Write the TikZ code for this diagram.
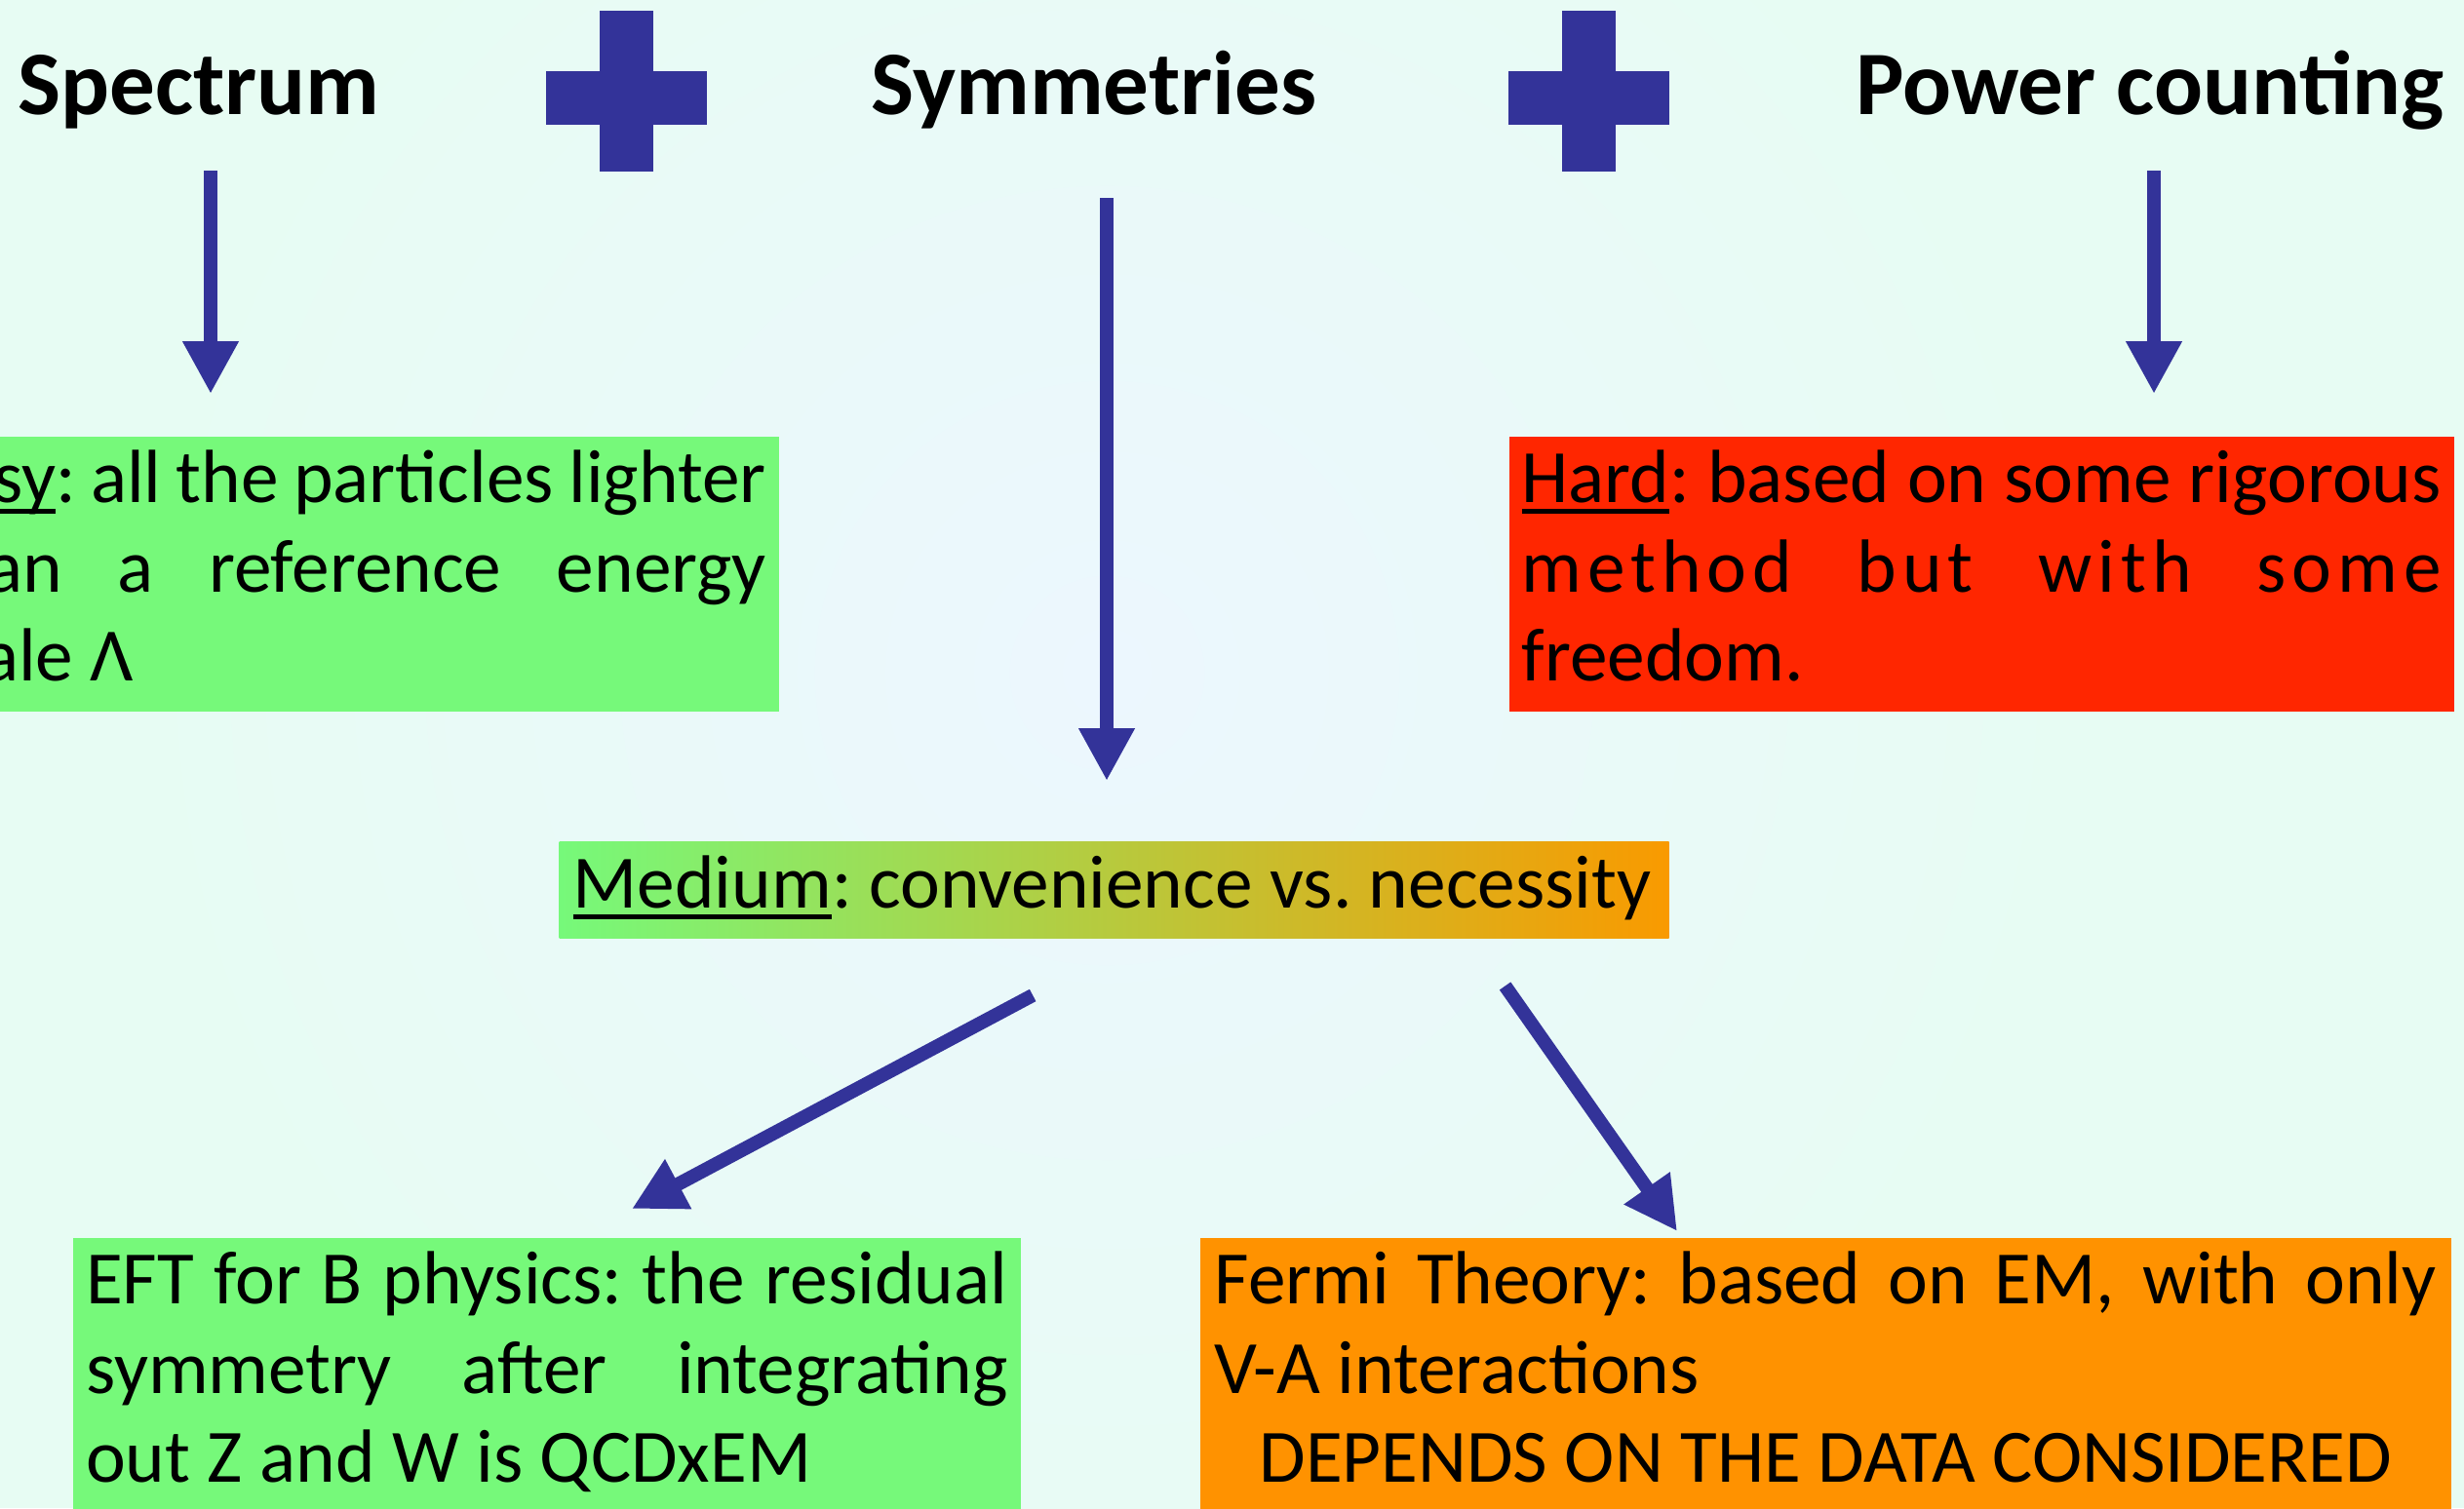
\documentclass[tikz,border=0pt]{standalone}
\usepackage{fontspec}
\setmainfont{Carlito}
\usetikzlibrary{arrows.meta}

\definecolor{flowblue}{RGB}{51,51,153}
\definecolor{easygreen}{RGB}{118,249,122}
\definecolor{hardred}{RGB}{255,38,0}
\definecolor{fermiorange}{RGB}{255,146,0}
\definecolor{medorange}{RGB}{249,154,0}
\definecolor{bgout}{RGB}{231,252,243}
\definecolor{bgin}{RGB}{236,247,254}
\newcommand{\undl}[1]{\setbox0\hbox{#1}\rlap{\rule[-0.12cm]{\wd0}{0.05cm}}\box0}

\begin{document}
\begin{tikzpicture}[
    head/.style={font=\fontsize{26.5pt}{30pt}\selectfont\bfseries, inner sep=0pt, anchor=base},
    card/.style={font=\fontsize{22pt}{26.1pt}\selectfont, anchor=north west, inner ysep=0.035cm,
      align=justify, execute at begin node={\frenchspacing\tolerance=9999\hyphenpenalty=10000}},
    flow/.style={draw=flowblue, line width=0.14cm, -{Triangle[length=0.54cm,width=0.54cm]}}
  ]
  \path[use as bounding box, clip] (0,0) rectangle (25.27,-15.47);
  \fill[bgout] (0,0) rectangle (25.27,-15.47);
  \shade[inner color=bgin, outer color=bgout] (11.35,-6.9) circle (10);

  \node[head] (spec) at (2.04,-1.17) {Spectrum};
  \node[head] (sym) at (11.22,-1.17) {Symmetries};
  \node[head] (pow) at (22.05,-1.17) {Power counting};
  \foreach \cx in {6.425,16.295} {
    \fill[flowblue] (\cx-0.275,-0.11) rectangle (\cx+0.275,-1.76);
    \fill[flowblue] (\cx-0.825,-0.73) rectangle (\cx+0.825,-1.28);
  }

  \node[card, fill=easygreen, inner xsep=0.13cm, text width=8.66cm] (easy) at (-0.94,-4.47)
    {\strut\undl{Easy}: all the particles lighter\linebreak than a reference energy\linebreak scale Λ\strut};
  \node[card, fill=hardred, inner xsep=0.13cm, text width=9.43cm] (hard) at (15.47,-4.47)
    {\strut\undl{Hard}: based on some rigorous\linebreak {\addfontfeature{LetterSpace=7.7}method but with some}\linebreak freedom.\strut};
  \node[card, left color=easygreen, right color=medorange, inner xsep=0.14cm, text width=11.10cm] (med) at (5.73,-8.63)
    {\strut\undl{Medium}: convenience vs. necessity\strut};
  \node[card, fill=easygreen, inner xsep=0.135cm, text width=9.45cm] (eft) at (0.74,-12.69)
    {\strut EFT for B physics: the residual\linebreak symmetry after integrating\linebreak out Z and W is QCDxEM\strut};
  \node[card, fill=fermiorange, inner xsep=0.15cm, text width=12.53cm] (fermi) at (12.30,-12.69)
    {\strut Fermi Theory: based on EM, with only\linebreak V-A interactions\par
     \hbox to\hsize{\hfil\strut DEPENDS ON THE DATA CONSIDERED\hfil}};

  \coordinate (tspec) at (2.16,-4.04);
  \coordinate (tsym) at (11.35,-8.01);
  \coordinate (tpow) at (22.09,-4.04);
  \coordinate (teft) at (6.48,-12.40);
  \coordinate (tfermi) at (17.20,-12.63);
  \draw[flow, shorten <=0.58cm] (spec.base -| tspec) -- (tspec);
  \draw[flow, shorten <=0.86cm] (sym.base -| tsym) -- (tsym);
  \draw[flow, shorten <=0.58cm] (pow.base -| tpow) -- (tpow);
  \draw[flow, shorten <=1.23cm] ([xshift=0.25cm]med.south) -- (teft);
  \draw[flow, shorten <=0.59cm] ([xshift=3.67cm]med.south) -- (tfermi);
\end{tikzpicture}
\end{document}
